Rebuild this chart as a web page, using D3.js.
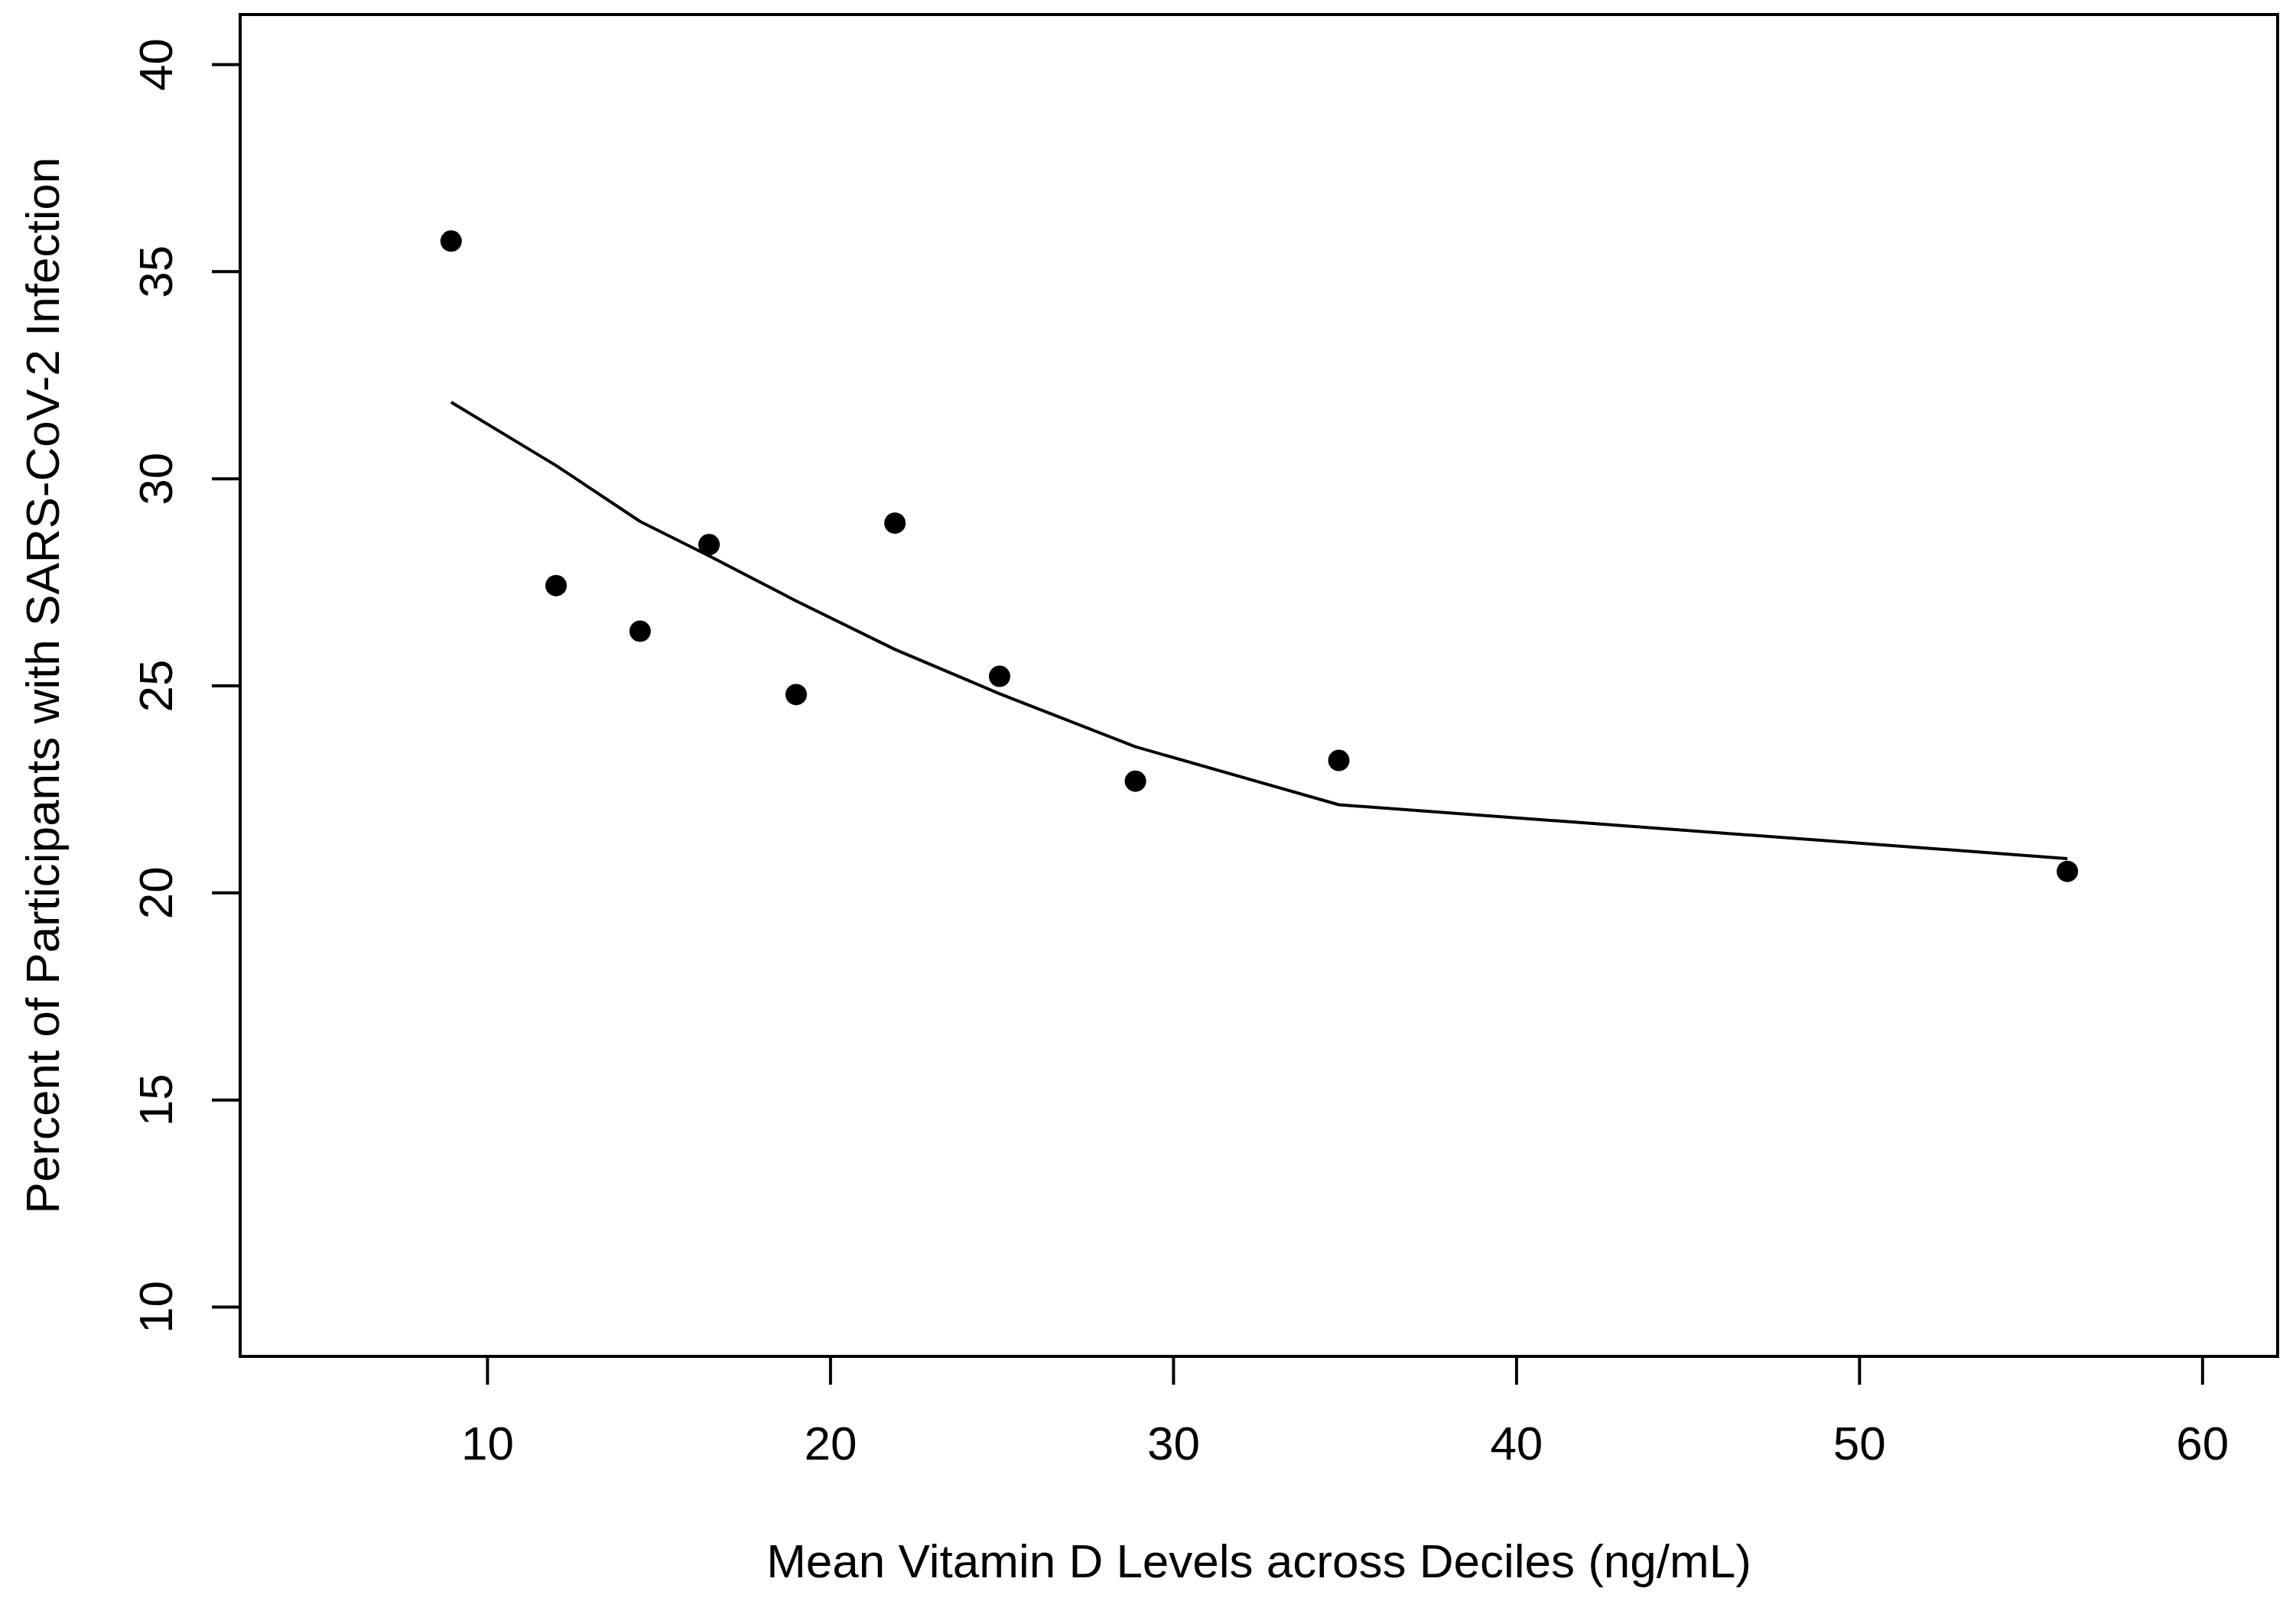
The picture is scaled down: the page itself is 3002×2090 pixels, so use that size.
<!DOCTYPE html>
<html>
<head>
<meta charset="utf-8">
<script src="https://cdn.jsdelivr.net/npm/d3@7"></script>
<style>
  html, body { margin: 0; padding: 0; background: #fff; }
  svg { display: block; }
  text { font-family: "Liberation Sans", Arial, sans-serif; fill: #000; }
</style>
</head>
<body>
<div id="chart"></div>
<script>
// Mean vitamin D per decile (ng/mL)
const vitD = [8.95, 12.01, 14.46, 16.47, 19.01, 21.89, 24.94, 28.90, 34.83, 56.07];
// Percent of participants with SARS-CoV-2 infection
const pctInfected = [35.73, 27.41, 26.31, 28.40, 24.78, 28.92, 25.22, 22.69, 23.19, 20.51];
// Smoothed fit evaluated at each decile
const fitted = [31.84, 30.31, 28.96, 28.13, 27.04, 25.87, 24.80, 23.52, 22.12, 20.82];

const xTicks = [10, 20, 30, 40, 50, 60];
const yTicks = [10, 15, 20, 25, 30, 35, 40];
const xlim = [5, 60];
const ylim = [10, 40];

const width = 3002, height = 2090;
const box = { left: 314, right: 2978, top: 19, bottom: 1774 };

const svg = d3.select("#chart").append("svg")
  .attr("width", width)
  .attr("height", height);

// R style 4% axis extension
const padX = (xlim[1] - xlim[0]) * 0.04;
const padY = (ylim[1] - ylim[0]) * 0.04;

const x = d3.scaleLinear()
  .domain([xlim[0] - padX, xlim[1] + padX])
  .range([box.left, box.right]);

const y = d3.scaleLinear()
  .domain([ylim[0] - padY, ylim[1] + padY])
  .range([box.bottom, box.top]);

const fontSize = 62;
const tickLen = 37;

// x axis
const gx = svg.append("g")
  .attr("transform", `translate(0,${box.bottom})`)
  .call(d3.axisBottom(x).tickValues(xTicks).tickSize(tickLen).tickSizeOuter(0));
gx.select(".domain").remove();
gx.selectAll(".tick line").attr("stroke", "#000").attr("stroke-width", 4);
gx.selectAll(".tick text")
  .attr("y", 1909 - box.bottom)
  .attr("dy", null)
  .style("font-size", fontSize + "px")
  .style("font-family", "'Liberation Sans', Arial, sans-serif");

// y axis, labels parallel to axis
const gy = svg.append("g")
  .attr("transform", `translate(${box.left},0)`)
  .call(d3.axisLeft(y).tickValues(yTicks).tickSize(tickLen).tickSizeOuter(0));
gy.select(".domain").remove();
gy.selectAll(".tick line").attr("stroke", "#000").attr("stroke-width", 4);
gy.selectAll(".tick text")
  .attr("x", null)
  .attr("dy", null)
  .attr("text-anchor", "middle")
  .attr("transform", `translate(${225 - box.left},0) rotate(-90)`)
  .style("font-size", fontSize + "px")
  .style("font-family", "'Liberation Sans', Arial, sans-serif");

// plot frame
svg.append("rect")
  .attr("x", box.left)
  .attr("y", box.top)
  .attr("width", box.right - box.left)
  .attr("height", box.bottom - box.top)
  .attr("fill", "none")
  .attr("stroke", "#000")
  .attr("stroke-width", 4);

// fitted curve
const line = d3.line()
  .x((d, i) => x(vitD[i]))
  .y(d => y(d));

svg.append("path")
  .datum(fitted)
  .attr("d", line)
  .attr("fill", "none")
  .attr("stroke", "#000")
  .attr("stroke-width", 4)
  .attr("stroke-linejoin", "round");

// points
svg.append("g")
  .selectAll("circle")
  .data(pctInfected)
  .enter().append("circle")
  .attr("cx", (d, i) => x(vitD[i]))
  .attr("cy", d => y(d))
  .attr("r", 14)
  .attr("fill", "#000");

// axis titles
svg.append("text")
  .attr("x", (box.left + box.right) / 2)
  .attr("y", 2063)
  .attr("text-anchor", "middle")
  .style("font-size", fontSize + "px")
  .text("Mean Vitamin D Levels across Deciles (ng/mL)");

svg.append("text")
  .attr("transform", `translate(77,${(box.top + box.bottom) / 2}) rotate(-90)`)
  .attr("text-anchor", "middle")
  .style("font-size", fontSize + "px")
  .text("Percent of Participants with SARS-CoV-2 Infection");
</script>
</body>
</html>
